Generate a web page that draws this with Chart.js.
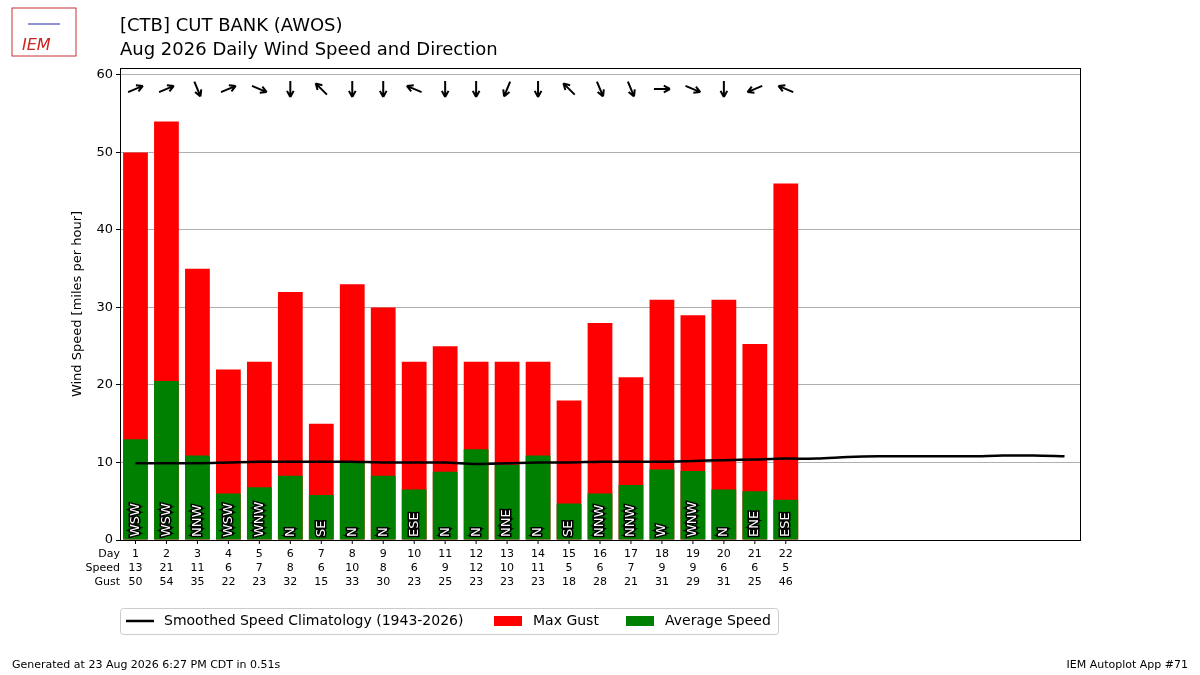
<!DOCTYPE html>
<html>
<head>
<meta charset="utf-8">
<script src="https://cdn.jsdelivr.net/npm/chart.js@4"></script>
<style>
  body { margin: 0; background: #fff; }
  #wrap { width: 1200px; height: 675px; position: relative; }
</style>
</head>
<body>
<div id="wrap"><canvas id="chart" width="1200" height="675"></canvas></div>
<script>
// observed daily values
const days = [1,2,3,4,5,6,7,8,9,10,11,12,13,14,15,16,17,18,19,20,21,22];
const avgSpeed = [13.0,20.5,10.9,6.0,6.8,8.3,5.8,10.2,8.3,6.5,8.8,11.7,9.7,10.9,4.7,6.0,7.1,9.1,8.9,6.5,6.3,5.2];
const maxGust = [50,54,35,22,23,32,15,33,30,23,25,23,23,23,18,28,21,31,29,31,25.3,46];
const speedLabels = [13,21,11,6,7,8,6,10,8,6,9,12,10,11,5,6,7,9,9,6,6,5];
const gustLabels = [50,54,35,22,23,32,15,33,30,23,25,23,23,23,18,28,21,31,29,31,25,46];
const dirLabels = ['WSW','WSW','NNW','WSW','WNW','N','SE','N','N','ESE','N','N','NNE','N','SE','NNW','NNW','W','WNW','N','ENE','ESE'];
// smoothed climatology, days 1..31
const climDays = [1,2,3,4,5,6,7,8,9,10,11,12,13,14,15,16,17,18,19,20,21,22,23,24,25,26,27,28,29,30,31];
const climSpeed = [9.9,9.9,9.9,10.0,10.1,10.1,10.1,10.1,10.0,10.0,10.0,9.8,9.9,10.0,10.0,10.1,10.1,10.1,10.2,10.3,10.4,10.5,10.5,10.7,10.8,10.8,10.8,10.8,10.9,10.9,10.8];
const yTicks = [0,10,20,30,40,50,60];

const compass = {N:0,NNE:22.5,NE:45,ENE:67.5,E:90,ESE:112.5,SE:135,SSE:157.5,S:180,SSW:202.5,SW:225,WSW:247.5,W:270,WNW:292.5,NW:315,NNW:337.5};
const FONT = 'DejaVu Sans';

const decor = {
  id: 'decor',
  afterDatasetsDraw(chart) {
    const ctx = chart.ctx, x = chart.scales.x, a = chart.chartArea;
    ctx.save();
    // direction labels inside bars
    ctx.font = '13px ' + FONT;
    ctx.textAlign = 'left'; ctx.textBaseline = 'middle';
    days.forEach((d, i) => {
      ctx.save();
      ctx.translate(x.getPixelForValue(d), a.bottom - 3);
      ctx.rotate(-Math.PI / 2);
      ctx.lineWidth = 3; ctx.strokeStyle = '#000';
      ctx.strokeText(dirLabels[i], 0, 0);
      ctx.fillStyle = '#fff';
      ctx.fillText(dirLabels[i], 0, 0);
      ctx.restore();
    });
    // arrows at top
    ctx.strokeStyle = '#000'; ctx.lineWidth = 2;
    days.forEach((d, i) => {
      const to = (compass[dirLabels[i]] + 180) * Math.PI / 180;
      const cx = x.getPixelForValue(d), cy = 89;
      const dx = Math.sin(to) * 8, dy = -Math.cos(to) * 8;
      ctx.beginPath();
      ctx.moveTo(cx - dx, cy - dy); ctx.lineTo(cx + dx, cy + dy);
      const ang = Math.atan2(dy, dx);
      ctx.moveTo(cx + dx, cy + dy);
      ctx.lineTo(cx + dx - 7 * Math.cos(ang - 0.5), cy + dy - 7 * Math.sin(ang - 0.5));
      ctx.moveTo(cx + dx, cy + dy);
      ctx.lineTo(cx + dx - 7 * Math.cos(ang + 0.5), cy + dy - 7 * Math.sin(ang + 0.5));
      ctx.stroke();
    });
    // frame
    ctx.lineWidth = 1; ctx.strokeStyle = '#000';
    ctx.strokeRect(a.left + 0.5, a.top + 0.5, a.right - a.left, a.bottom - a.top);
    // x ticks and table
    ctx.font = '11px ' + FONT; ctx.fillStyle = '#000';
    ctx.textAlign = 'center'; ctx.textBaseline = 'top';
    days.forEach((d, i) => {
      const px = x.getPixelForValue(d);
      ctx.beginPath(); ctx.moveTo(px, a.bottom); ctx.lineTo(px, a.bottom + 4); ctx.stroke();
      ctx.fillText(String(d), px, 549);
      ctx.fillText(String(speedLabels[i]), px, 563);
      ctx.fillText(String(gustLabels[i]), px, 577);
    });
    ctx.textAlign = 'right';
    ctx.fillText('Day', 120, 549); ctx.fillText('Speed', 120, 563); ctx.fillText('Gust', 120, 577);
    // titles
    ctx.textAlign = 'left'; ctx.textBaseline = 'alphabetic';
    ctx.font = '18px ' + FONT;
    ctx.fillText('[CTB] CUT BANK (AWOS)', 120, 31);
    ctx.fillText('Aug 2026 Daily Wind Speed and Direction', 120, 55);
    // logo
    ctx.strokeStyle = '#c33'; ctx.lineWidth = 1;
    ctx.strokeRect(12, 8, 64, 48);
    ctx.fillStyle = '#c22'; ctx.font = 'italic 16px ' + FONT;
    ctx.fillText('IEM', 22, 50);
    ctx.strokeStyle = '#22a'; ctx.beginPath(); ctx.moveTo(28, 24); ctx.lineTo(60, 24); ctx.stroke();
    // legend
    ctx.strokeStyle = '#ccc'; ctx.lineWidth = 1;
    ctx.beginPath(); ctx.roundRect(120.5, 608.5, 658, 26, 3); ctx.stroke();
    ctx.font = '14px ' + FONT; ctx.fillStyle = '#000'; ctx.textBaseline = 'middle';
    ctx.strokeStyle = '#000'; ctx.lineWidth = 2.5;
    ctx.beginPath(); ctx.moveTo(126, 621); ctx.lineTo(154, 621); ctx.stroke();
    ctx.fillText('Smoothed Speed Climatology (1943-2026)', 164, 621);
    ctx.fillStyle = 'red'; ctx.fillRect(494, 616, 28, 10);
    ctx.fillStyle = '#000'; ctx.fillText('Max Gust', 533, 621);
    ctx.fillStyle = 'green'; ctx.fillRect(626, 616, 28, 10);
    ctx.fillStyle = '#000'; ctx.fillText('Average Speed', 665, 621);
    // footer
    ctx.font = '11px ' + FONT;
    ctx.fillText('Generated at 23 Aug 2026 6:27 PM CDT in 0.51s', 12, 665);
    ctx.textAlign = 'right';
    ctx.fillText('IEM Autoplot App #71', 1188, 665);
    ctx.restore();
  }
};

new Chart(document.getElementById('chart'), {
  type: 'bar',
  data: {
    datasets: [
      { type: 'line', data: climDays.map((d, i) => ({x: d, y: climSpeed[i]})), borderColor: '#000', borderWidth: 2.5, pointRadius: 0, tension: 0.3, order: 0 },
      { data: days.map((d, i) => ({x: d, y: avgSpeed[i]})), backgroundColor: 'green', order: 1, grouped: false, categoryPercentage: 1, barPercentage: 0.8 },
      { data: days.map((d, i) => ({x: d, y: maxGust[i]})), backgroundColor: 'red', order: 2, grouped: false, categoryPercentage: 1, barPercentage: 0.8 }
    ]
  },
  options: {
    responsive: false,
    animation: false,
    layout: { padding: { left: 70, right: 120, top: 68, bottom: 0 } },
    scales: {
      x: {
        type: 'linear', min: 0.5, max: 31.5, offset: false,
        grid: { display: false }, border: { display: false },
        ticks: { display: false },
        afterFit(s) { s.height = 135; }
      },
      y: {
        min: 0, max: 60.9,
        afterBuildTicks(s) { s.ticks = yTicks.map(v => ({value: v})); },
        ticks: { color: '#000', font: { family: FONT, size: 13 } },
        grid: { color: '#b0b0b0', drawTicks: true, tickLength: 4, tickColor: '#000' },
        border: { display: false },
        title: { display: true, text: 'Wind Speed [miles per hour]', color: '#000', font: { family: FONT, size: 13 }, padding: 0 },
        afterFit(s) { s.width = 50; }
      }
    },
    plugins: { legend: { display: false }, tooltip: { enabled: false } }
  },
  plugins: [decor]
});
</script>
</body>
</html>
